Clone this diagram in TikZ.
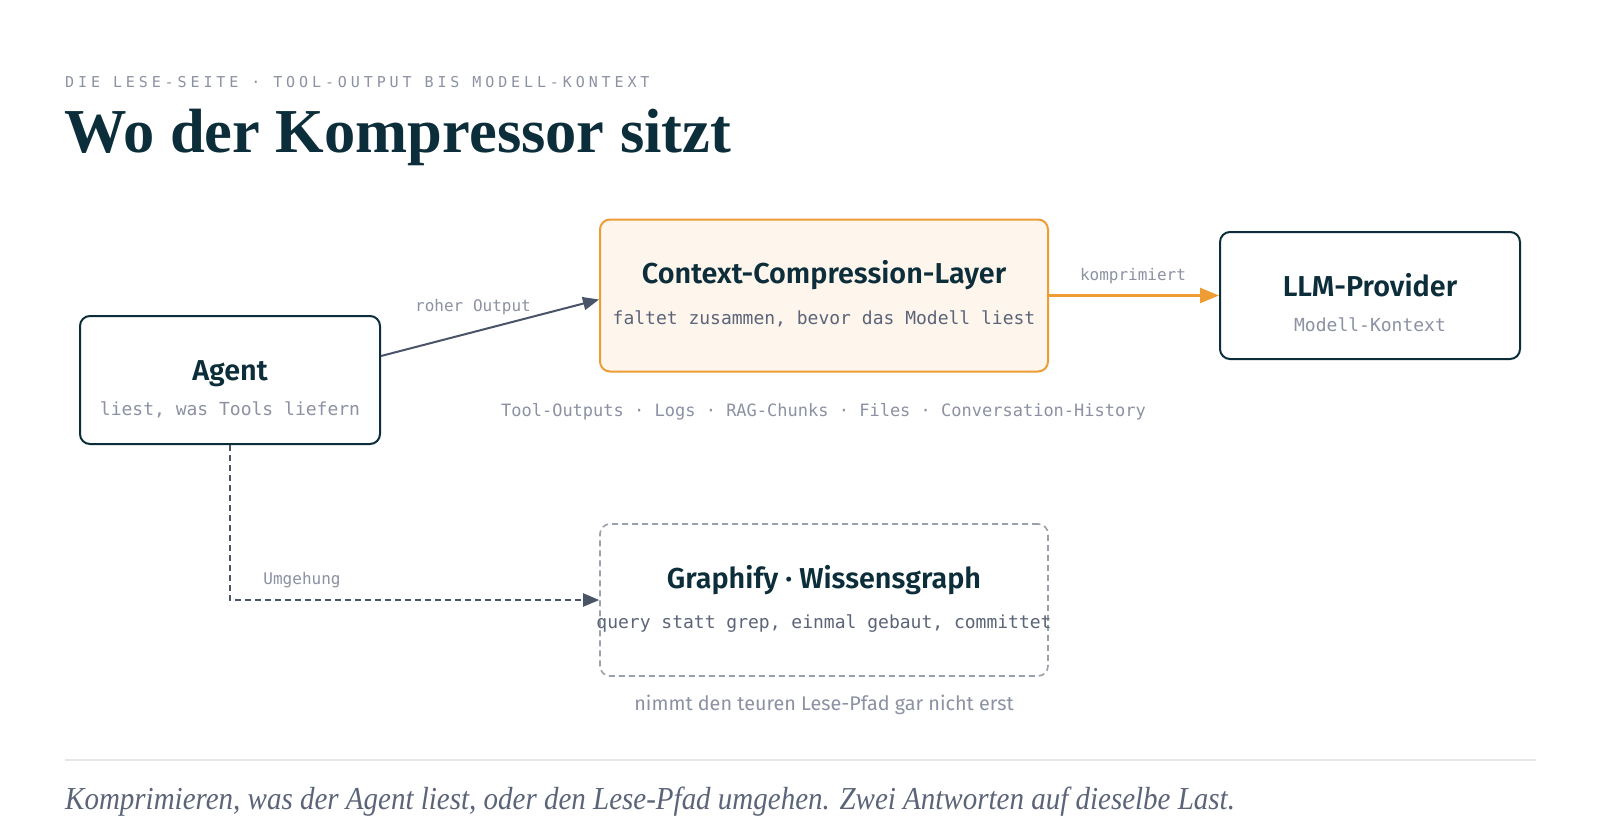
\documentclass[tikz,border=0pt]{standalone}
\usepackage{fontspec}
\setmainfont{Liberation Serif}
\newfontfamily\fsemi{Fira Sans SemiBold}
\newfontfamily\fsans{Fira Sans}
\newfontfamily\fmono{DejaVu Sans Mono}
\newfontfamily\fkick{DejaVu Sans Mono}[LetterSpace=26]
\newfontfamily\ffoot{Liberation Serif}[FakeStretch=0.906]
\usetikzlibrary{arrows.meta,calc}
\definecolor{ink}{HTML}{0C2D3A}
\definecolor{slate}{HTML}{4A5468}
\definecolor{midtxt}{HTML}{5B6478}
\definecolor{lighttxt}{HTML}{8C91A3}
\definecolor{amber}{HTML}{EE9C34}
\definecolor{cream}{HTML}{FEF6EC}
\definecolor{dashgrey}{HTML}{9AA1A9}
\definecolor{rulegrey}{HTML}{E4E6EA}
\tikzset{
  solidbox/.style={draw=ink, fill=white, line width=2pt, rounded corners=10pt, inner sep=0pt},
  accentbox/.style={draw=amber, fill=cream, line width=2pt, rounded corners=10pt, inner sep=0pt},
  ghostbox/.style={draw=dashgrey, line width=1.6pt, dash pattern=on 6pt off 4pt, rounded corners=10pt, inner sep=0pt},
  boxtitle/.style={font=\fsemi\fontsize{28.8}{32}\selectfont, text=ink, anchor=base, inner sep=0pt},
  boxsub/.style={font=\fmono\fontsize{18}{20}\selectfont, anchor=base, inner sep=0pt},
  edgelbl/.style={font=\fmono\fontsize{16}{18}\selectfont, text=lighttxt, anchor=base, inner sep=0pt},
  greyarrow/.style={draw=slate, line width=2pt, -{Triangle[length=16pt,width=13pt]}},
  amberarrow/.style={draw=amber, line width=2.5pt, -{Triangle[length=19pt,width=15pt]}},
}
\begin{document}
\begin{tikzpicture}[x=1pt,y=-1pt]
\useasboundingbox (0,0) rectangle (1600,840);
\fill[white] (0,0) rectangle (1600,840);

% header
\node[font=\fkick\fontsize{15}{18}\selectfont, text=lighttxt, anchor=base west, inner sep=0pt] (kicker) at (65,88) {DIE LESE-SEITE · TOOL-OUTPUT BIS MODELL-KONTEXT};
\node[font=\bfseries\fontsize{62.5}{68}\selectfont, text=ink, anchor=base west, inner sep=0pt] (title) at (64,153) {Wo der Kompressor sitzt};

% boxes
\node[solidbox, minimum width=300pt, minimum height=128pt] (agent) at (230,380) {};
\node[accentbox, minimum width=448pt, minimum height=152pt] (ccl) at (824,295.5) {};
\node[solidbox, minimum width=300pt, minimum height=127pt] (llm) at (1370,295.5) {};
\node[ghostbox, minimum width=448pt, minimum height=152pt] (graph) at (824,600) {};

% box texts
\node[boxtitle] (agentT) at (230,380) {Agent};
\node[boxsub, text=lighttxt] (agentS) at (230,415) {liest, was Tools liefern};
\node[boxtitle] (cclT) at (824,283) {Context-Compression-Layer};
\node[boxsub, text=midtxt] (cclS) at (824,324) {faltet zusammen, bevor das Modell liest};
\node[boxtitle] (llmT) at (1370,296) {LLM-Provider};
\node[boxsub, text=lighttxt] (llmS) at (1370,331) {Modell-Kontext};
\node[boxtitle] (graphT) at (824,588) {Graphify · Wissensgraph};
\node[boxsub, text=midtxt] (graphS) at (824,628) {query statt grep, einmal gebaut, committet};

% free texts
\node[font=\fmono\fontsize{17}{20}\selectfont, text=lighttxt, anchor=base, inner sep=0pt] (sources) at (823.5,416) {Tool-Outputs · Logs · RAG-Chunks · Files · Conversation-History};
\node[font=\fsans\fontsize{19.8}{23}\selectfont, text=lighttxt, anchor=base, inner sep=0pt] (note) at (824,710) {nimmt den teuren Lese-Pfad gar nicht erst};

% connectors
\draw[greyarrow] ([yshift=24pt]agent.east) -- ([yshift=-4pt]ccl.west);
\node[edgelbl] (lblraw) at (473,311.5) {roher Output};
\draw[amberarrow] (ccl.east) -- (llm.west);
\node[edgelbl] (lblcomp) at (1133,280) {komprimiert};
\draw[greyarrow, dash pattern=on 6pt off 4pt] (agent.south) |- (graph.west);
\node[edgelbl] (lblbypass) at (302,584) {Umgehung};

% footer
\coordinate (ruleL) at (65,760);
\coordinate (ruleR) at (1536,760);
\draw[rulegrey, line width=1.5pt] (ruleL) -- (ruleR);
\node[font=\ffoot\itshape\fontsize{32}{36}\selectfont, text=midtxt, anchor=base west, inner sep=0pt] (footer) at (65,809) {Komprimieren, was der Agent liest, oder den Lese-Pfad umgehen. Zwei Antworten auf dieselbe Last.};
\end{tikzpicture}
\end{document}
